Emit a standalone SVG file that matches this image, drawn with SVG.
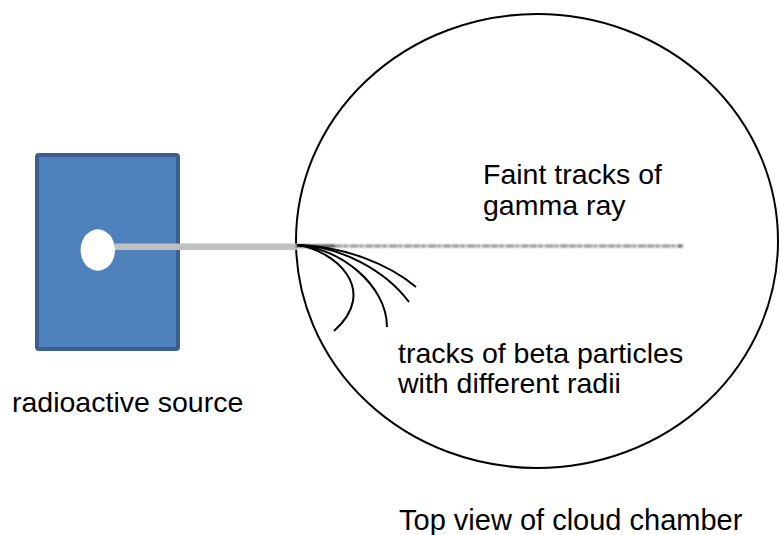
<svg xmlns="http://www.w3.org/2000/svg" width="779" height="535" viewBox="0 0 779 535">
  <style>
    .label { font-family: "Liberation Sans", Arial, sans-serif; font-size: 28.5px; fill: #000; }
    .track { fill: none; stroke: #000; stroke-width: 2; stroke-linecap: butt; }
  </style>
  <defs>
    <filter id="haze" filterUnits="userSpaceOnUse" x="280" y="230" width="420" height="32">
      <feGaussianBlur stdDeviation="1.1"/>
    </filter>
  </defs>
  <rect width="779" height="535" fill="#fff"/>

  <!-- radioactive source block with its opening -->
  <g id="source">
    <rect x="37" y="155" width="141" height="194" rx="2" fill="#4f81bd" stroke="#3b5f8e" stroke-width="4"/>
    <ellipse cx="97.8" cy="250" rx="17.2" ry="20.7" fill="#fff"/>
    <text class="label" x="12" y="412">radioactive source</text>
  </g>

  <!-- cloud chamber seen from above -->
  <g id="chamber">
    <ellipse cx="537" cy="241" rx="241" ry="227" fill="none" stroke="#000" stroke-width="2"/>
    <text class="label" x="399" y="530" style="font-size:29px">Top view of cloud chamber</text>
  </g>

  <g id="connectors">
    <!-- beam leaving the source -->
    <rect x="115" y="243.5" width="182" height="6.5" fill="#c0c0c0"/>
  </g>

  <!-- faint gamma ray track -->
  <g id="gamma">
    <g filter="url(#haze)">
      <line x1="296" y1="246" x2="683" y2="246" stroke="#7a7a7a" stroke-width="2.6" stroke-dasharray="7 1 5 1.5 9 1 4 1.5 8 1"/>
      <line x1="296" y1="246" x2="335" y2="246" stroke="#333" stroke-width="2.6"/>
      <circle cx="680" cy="246" r="1.8" fill="#555"/>
    </g>
    <text class="label" x="483" y="184">Faint tracks of</text>
    <text class="label" x="483" y="215">gamma ray</text>
  </g>

  <!-- curved beta particle tracks -->
  <g id="beta">
    <path class="track" d="M297,245 C335,250 380,290 334,331"/>
    <path class="track" d="M297,245 C340,248 387,285 387,327"/>
    <path class="track" d="M297,245 C340,246 385,270 409,302"/>
    <path class="track" d="M297,245 C345,246 390,265 416,287"/>
    <text class="label" x="398" y="363">tracks of beta particles</text>
    <text class="label" x="398" y="393">with different radii</text>
  </g>
</svg>
